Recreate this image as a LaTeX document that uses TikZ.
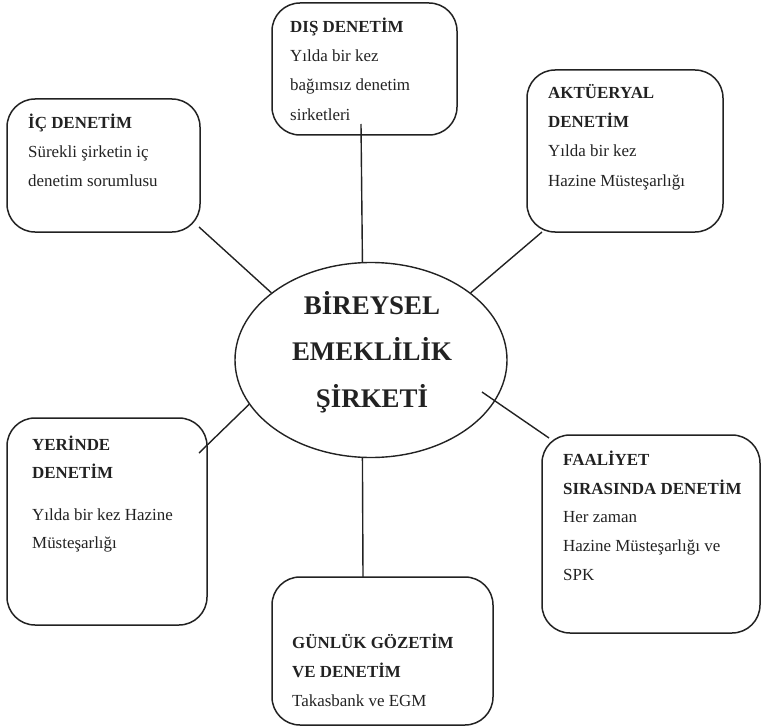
\documentclass[tikz,border=0pt]{standalone}
\usepackage{fontspec}
\setmainfont{Liberation Serif}
\usetikzlibrary{shapes.geometric}
\definecolor{ink}{HTML}{222222}
\begin{document}
\begin{tikzpicture}[x=1bp,y=-1bp,
  boxframe/.style={draw=ink, line width=1.5bp, rounded corners=28bp},
  boxtext/.style={anchor=north west, inner sep=0pt, align=left, text=ink,
     font=\fontsize{17}{29.5}\selectfont},
  link/.style={draw=ink, line width=1.4bp}]
\useasboundingbox (0,0) rectangle (764,727);

% boxes
\draw[boxframe] (272,3) rectangle (457,135);
\draw[boxframe] (7,99) rectangle (200,232);
\draw[boxframe] (527,70) rectangle (723,232);
\draw[boxframe] (7,418) rectangle (207,625);
\draw[boxframe] (542,435) rectangle (760,633);
\draw[boxframe] (272,577) rectangle (493,725);

% central ellipse
\node[draw=ink, line width=1.4bp, ellipse, minimum width=272bp, minimum height=195bp, inner sep=0pt] (e) at (371,360) {};
\node[anchor=north, inner sep=0pt, align=center, text=ink,
      font=\fontsize{27}{47}\selectfont\bfseries] (etxt) at (372,281.1)
  {\strut BİREYSEL\\\strut EMEKLİLİK\\\strut ŞİRKETİ};

% texts
\node[boxtext] (dis) at (290,11.35)
  {\strut\textbf{DIŞ DENETİM}\\\strut Yılda bir kez\\\strut bağımsız denetim\\\strut sirketleri};
\node[boxtext] (ic) at (28,107.35)
  {\strut\textbf{İÇ DENETİM}\\\strut Sürekli şirketin iç\\\strut denetim sorumlusu};
\node[boxtext] (akt) at (548,77.35)
  {\strut\textbf{AKTÜERYAL}\\\strut\textbf{DENETİM}\\\strut Yılda bir kez\\\strut Hazine Müsteşarlığı};
\node[boxtext, font=\fontsize{17}{28.5}\selectfont] (yerh) at (32,430.05)
  {\strut\textbf{YERİNDE}\\\strut\textbf{DENETİM}};
\node[boxtext, font=\fontsize{17}{28.5}\selectfont] (yerb) at (32,500.05)
  {\strut Yılda bir kez Hazine\\\strut Müsteşarlığı};
\node[boxtext, font=\fontsize{17}{29}\selectfont] (faal) at (563,444.7)
  {\strut\textbf{FAALİYET}\\\strut\textbf{SIRASINDA DENETİM}\\\strut Her zaman\\\strut Hazine Müsteşarlığı ve\\\strut SPK};
\node[boxtext] (gun) at (292,627.35)
  {\strut\textbf{GÜNLÜK GÖZETİM}\\\strut\textbf{VE DENETİM}\\\strut Takasbank ve EGM};

% connector ends on the boxes
\coordinate (dis-end) at (361,124);
\coordinate (ic-end) at (199,227);
\coordinate (akt-end) at (542,232);
\coordinate (yer-end) at (199,453);
\coordinate (faal-end) at (549,438);
\coordinate (gun-end) at (363,577);
\coordinate (faal-start) at (482,392);

\draw[link] (dis-end) -- (e.95);
\draw[link] (ic-end) -- (e.146);
\draw[link] (akt-end) -- (e.34);
\draw[link] (yer-end) -- (e.200);
\draw[link] (faal-start) -- (faal-end);
\draw[link] (e.265) -- (gun-end);
\end{tikzpicture}
\end{document}
